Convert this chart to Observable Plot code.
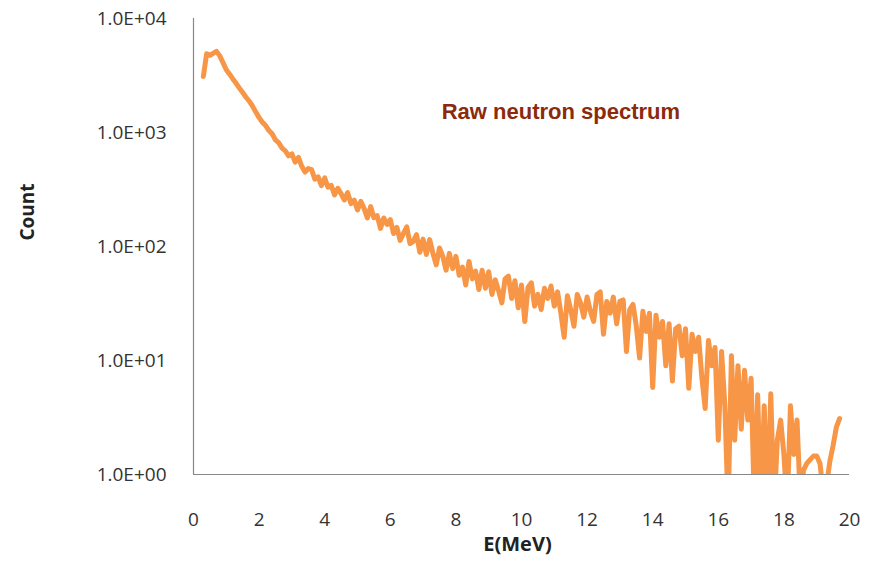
<!DOCTYPE html>
<html>
<head>
<meta charset="utf-8">
<script src="https://cdn.jsdelivr.net/npm/d3@7"></script>
<script src="https://cdn.jsdelivr.net/npm/@observablehq/plot@0.6"></script>
<style>
  html, body { margin: 0; padding: 0; background: #fff; }
  #chart svg { display: block; }
</style>
</head>
<body>
<div id="chart"></div>
<script>
// Energy bins: first bin centre and bin width (MeV)
const binStart = 0.3;
const binWidth = 0.1;

// Counts per 0.1 MeV bin (0.3 ... 19.7 MeV)
const counts = [
  3100, 4900, 4750, 4950, 5150, 4700, 4100,                 // 0.3-0.9
  3550, 3250, 2950, 2700, 2450, 2240, 2040, 1880, 1700, 1510, // 1.0-1.9
  1350, 1230, 1150, 1040, 970, 860, 810, 730, 690, 625,       // 2.0-2.9
  650, 550, 605, 505, 450, 483, 472, 390, 408, 342,           // 3.0-3.9
  400, 331, 343, 284, 324, 290, 256, 297, 238, 255,           // 4.0-4.9
  209, 249, 216, 178, 224, 179, 187, 144, 178, 156,           // 5.0-5.9
  172, 130, 147, 113, 130, 149, 106, 111, 127, 89,            // 6.0-6.9
  116, 85, 115, 87, 69, 97, 82, 62, 87, 64,                   // 7.0-7.9
  82, 56, 66, 46, 74, 52, 61, 42, 62, 43,                     // 8.0-8.9
  60, 38, 51, 41, 32, 52, 55, 35, 50, 29,                     // 9.0-9.9
  46, 22, 44, 48, 30, 38, 28, 43, 35, 45,                     // 10.0-10.9
  30, 40, 26, 16, 37, 28, 20, 38, 32, 24,                     // 11.0-11.9
  36, 27, 22, 38, 40, 17, 33, 26, 36, 21,                     // 12.0-12.9
  33, 34, 12, 28, 31, 20, 10.5, 27, 18, 26,                   // 13.0-13.9
  5.8, 25, 16, 22, 9, 21, 6.6, 19, 20, 11,                    // 14.0-14.9
  19, 5.7, 17, 12, 16, 7, 3.8, 15, 9, 13,                     // 15.0-15.9
  2.0, 12, 4, 0.5, 11, 2, 9, 2.5, 8.2, 3,                     // 16.0-16.9
  7, 0.5, 5, 0.5, 4, 0.5, 5.1, 0.5, 2, 3,                     // 17.0-17.9
  1.5, 0.5, 4, 1.5, 3, 0.6, 1.1, 1.25, 1.35, 1.45,            // 18.0-18.9
  1.45, 1.25, 0.7, 0.8, 1.3, 1.8, 2.6, 3.1                    // 19.0-19.7
];

const xTicks = [0, 2, 4, 6, 8, 10, 12, 14, 16, 18, 20];
const yTicks = [1, 10, 100, 1000, 10000];
const yTickLabels = ["1.0E+00", "1.0E+01", "1.0E+02", "1.0E+03", "1.0E+04"];
const annotation = [{E: 11.2, count: 1500, text: "Raw neutron spectrum"}];

const data = counts.map((c, i) => ({E: +(binStart + i * binWidth).toFixed(1), count: c}));

const tickFont = "'Open Sans', sans-serif";

const chart = Plot.plot({
  width: 877,
  height: 564,
  marginLeft: 193,
  marginRight: 28,
  marginTop: 18,
  marginBottom: 90,
  style: {fontFamily: tickFont, background: "#fff", color: "#333"},
  x: {domain: [0, 20]},
  y: {type: "log", domain: [1, 10000]},
  marks: [
    Plot.line(data, {x: "E", y: "count", stroke: "#F79646", strokeWidth: 5,
      strokeLinejoin: "round", strokeLinecap: "round", clip: true}),
    Plot.ruleX([0], {stroke: "#888", strokeWidth: 1.2}),
    Plot.ruleY([1], {stroke: "#888", strokeWidth: 1.2}),
    Plot.axisX({ticks: xTicks, tickSize: 0, tickPadding: 38, label: null,
      fontSize: 19, fill: "#333"}),
    Plot.axisY({ticks: yTicks, tickSize: 0, tickPadding: 27, label: null,
      tickFormat: (d) => yTickLabels[yTicks.indexOf(d)], fontSize: 19, fill: "#333"}),
    Plot.text(["Count"], {frameAnchor: "left", dx: -166, dy: -6, rotate: -90,
      fontSize: 19, fontWeight: "bold", fill: "#222"}),
    Plot.text(["E(MeV)"], {frameAnchor: "bottom", dx: -4, dy: 76,
      fontSize: 20, fontWeight: "bold", fill: "#222"}),
    Plot.text(annotation, {x: "E", y: "count", text: "text", fontSize: 22,
      fontWeight: "bold", fill: "#8c2a0c", fontFamily: "'Liberation Sans', sans-serif"})
  ]
});

document.getElementById("chart").appendChild(chart);
</script>
</body>
</html>
